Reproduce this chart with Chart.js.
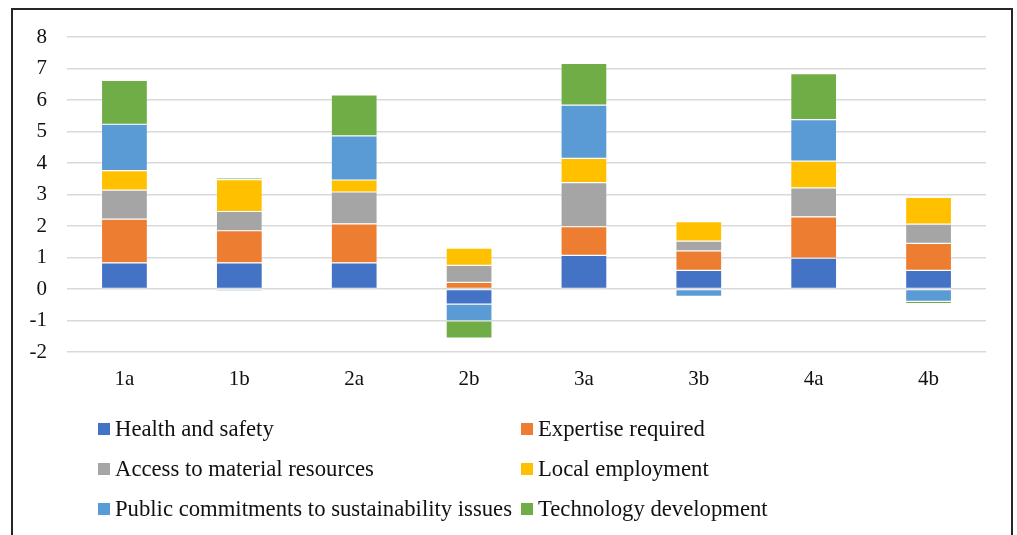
<!DOCTYPE html>
<html>
<head>
<meta charset="utf-8">
<script src="https://cdn.jsdelivr.net/npm/chart.js@4/dist/chart.umd.min.js"></script>
<style>
  html, body { margin: 0; padding: 0; background: #fff; }
  body { width: 1017px; height: 535px; position: relative; overflow: hidden; }
  #frame {
    position: absolute; left: 11px; top: 8px; width: 998px; height: 560px;
    border: 2px solid #262626;
  }
  #wrap { position: absolute; left: 0; top: 0; width: 1017px; height: 535px; }
  #legend { position: absolute; left: 0; top: 0; font-family: "Liberation Serif", "Times New Roman", serif; font-size: 22.7px; color: #111; }
  .item { position: absolute; display: flex; align-items: center; height: 26px; line-height: 26px; white-space: nowrap; }
  .swatch { width: 12px; height: 12px; margin-right: 5px; }
</style>
</head>
<body>
<div id="frame"></div>
<div id="wrap"><canvas id="chart"></canvas></div>
<div id="legend"></div>
<script>
const categories = ['1a', '1b', '2a', '2b', '3a', '3b', '4a', '4b'];

const healthSafety = [0.83, 0.83, 0.83, -0.48, 1.07, 0.59, 0.98, 0.59];
const expertise = [1.39, 1.02, 1.24, 0.21, 0.91, 0.62, 1.31, 0.86];
const materialAccess = [0.92, 0.61, 1.01, 0.54, 1.40, 0.31, 0.92, 0.61];
const localEmployment = [0.62, 1.01, 0.38, 0.55, 0.77, 0.62, 0.85, 0.85];
const publicCommitments = [1.47, -0.07, 1.40, -0.53, 1.69, -0.23, 1.32, -0.39];
const techDevelopment = [1.39, 0.06, 1.30, -0.55, 1.32, 0, 1.46, -0.07];

const seriesNames = [
  'Health and safety',
  'Expertise required',
  'Access to material resources',
  'Local employment',
  'Public commitments to sustainability issues',
  'Technology development'
];
const seriesValues = [healthSafety, expertise, materialAccess, localEmployment, publicCommitments, techDevelopment];
const seriesColors = ['#4472C4', '#ED7D31', '#A5A5A5', '#FFC000', '#5B9BD5', '#70AD47'];

const yMin = -2;
const yMax = 8;

const serif = '"Liberation Serif", "Times New Roman", serif';

const datasets = seriesNames.map(function (name, i) {
  return {
    label: name,
    data: seriesValues[i],
    backgroundColor: seriesColors[i],
    borderColor: 'rgba(255,255,255,0.45)',
    borderWidth: 0.6,
    borderSkipped: false,
    categoryPercentage: 1,
    barPercentage: 0.4
  };
});

new Chart(document.getElementById('chart'), {
  type: 'bar',
  data: { labels: categories, datasets: datasets },
  options: {
    responsive: true,
    maintainAspectRatio: false,
    animation: false,
    layout: { padding: { left: 12, right: 31, top: 37, bottom: 0 } },
    plugins: {
      legend: { display: false },
      tooltip: { enabled: false }
    },
    scales: {
      x: {
        stacked: true,
        grid: { display: false, drawTicks: false },
        border: { display: false },
        ticks: { color: '#111', padding: 15, font: { family: serif, size: 21 } },
        afterFit: function (scale) { scale.height = 183; }
      },
      y: {
        stacked: true,
        min: yMin,
        max: yMax,
        grid: { color: '#d9d9d9', lineWidth: 1.5, drawTicks: false },
        border: { display: false },
        ticks: { stepSize: 1, color: '#111', padding: 20, font: { family: serif, size: 21 } },
        afterFit: function (scale) { scale.width = 55; }
      }
    }
  }
});

// two-column legend under the plot
const legend = document.getElementById('legend');
seriesNames.forEach(function (name, i) {
  const item = document.createElement('div');
  item.className = 'item';
  item.style.left = (i % 2 === 0 ? 98 : 521) + 'px';
  item.style.top = (416 + Math.floor(i / 2) * 40) + 'px';
  const sw = document.createElement('span');
  sw.className = 'swatch';
  sw.style.background = seriesColors[i];
  const txt = document.createElement('span');
  txt.textContent = name;
  item.appendChild(sw);
  item.appendChild(txt);
  legend.appendChild(item);
});
</script>
</body>
</html>
